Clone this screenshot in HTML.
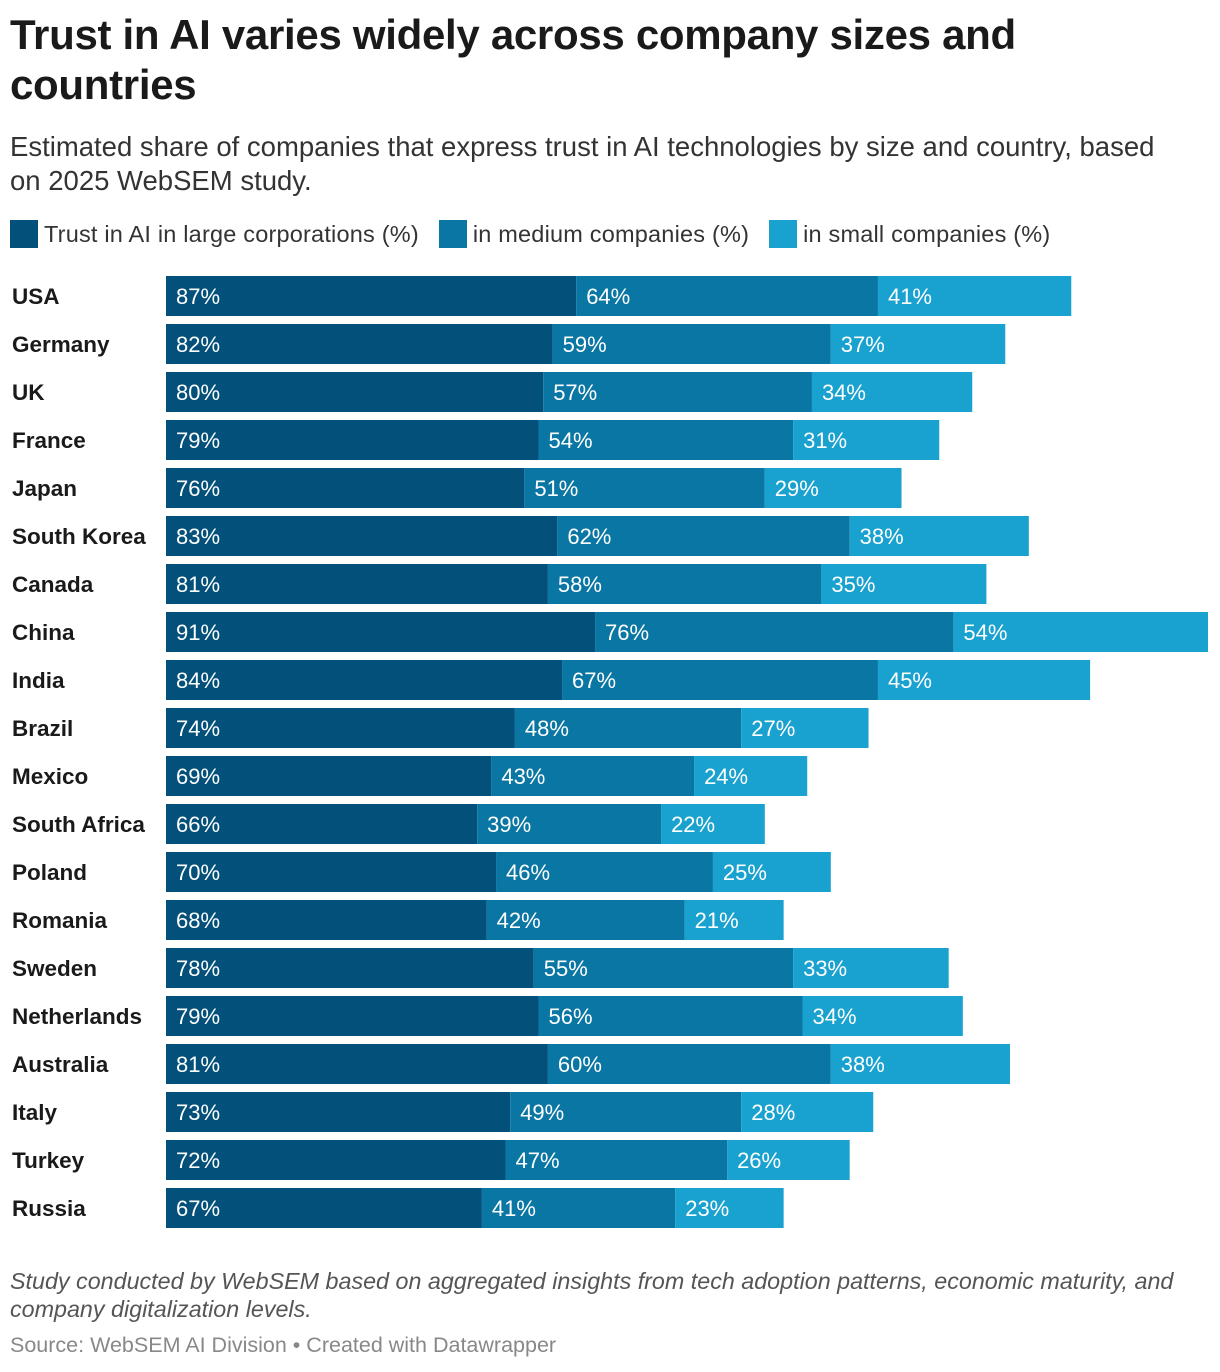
<!DOCTYPE html>
<html><head><meta charset="utf-8"><style>
body{margin:0;width:1220px;height:1372px;background:#fff;font-family:"Liberation Sans",Arial,sans-serif;color:#1a1a1a;position:relative;overflow:hidden}
#title{position:absolute;left:10px;top:10px;font-size:42px;font-weight:bold;line-height:50px;width:1180px;letter-spacing:-0.3px}
#sub{position:absolute;left:10px;top:130px;font-size:27.5px;line-height:34px;color:#333;width:1180px}
#legend{position:absolute;left:10px;top:220px;font-size:23.5px;color:#333;display:flex;gap:20px;letter-spacing:0.2px}
.li{display:flex;align-items:center}
.sw{width:28px;height:28px;margin-right:6px}
#notes{position:absolute;left:10px;top:1267px;font-size:23.3px;font-style:italic;color:#555;line-height:28px;width:1200px}
#src{position:absolute;left:10px;top:1333px;font-size:21.5px;color:#888}
</style></head><body>
<div id="title">Trust in AI varies widely across company sizes and countries</div>
<div id="sub">Estimated share of companies that express trust in AI technologies by size and country, based on 2025 WebSEM study.</div>
<div id="legend">
<div class="li"><div class="sw" style="background:#03507a"></div>Trust in AI in large corporations (%)</div>
<div class="li"><div class="sw" style="background:#0a76a4"></div>in medium companies (%)</div>
<div class="li"><div class="sw" style="background:#19a2cf"></div>in small companies (%)</div>
</div>
<svg id="chart" width="1220" height="1372" style="position:absolute;left:0;top:0"></svg>
<div id="notes">Study conducted by WebSEM based on aggregated insights from tech adoption patterns, economic maturity, and company digitalization levels.</div>
<div id="src">Source: WebSEM AI Division • Created with Datawrapper</div>
<script>
const countries=["USA","Germany","UK","France","Japan","South Korea","Canada","China","India","Brazil","Mexico","South Africa","Poland","Romania","Sweden","Netherlands","Australia","Italy","Turkey","Russia"];
const large=[87,82,80,79,76,83,81,91,84,74,69,66,70,68,78,79,81,73,72,67];
const medium=[64,59,57,54,51,62,58,76,67,48,43,39,46,42,55,56,60,49,47,41];
const small=[41,37,34,31,29,38,35,54,45,27,24,22,25,21,33,34,38,28,26,23];
const svg=document.getElementById('chart');
const NS='http://www.w3.org/2000/svg';
const x0=166, scale=1042/221;
function xs(v){return x0+v*scale;}
function ys(i){return 276+i*48;}
const cols=["#03507a","#0a76a4","#19a2cf"];
const names=["large","medium","small"];
countries.forEach((c,i)=>{
  const y=ys(i);
  const t=document.createElementNS(NS,'text');
  t.setAttribute('x',12);t.setAttribute('y',y+28);
  t.setAttribute('font-size','22.5');t.setAttribute('font-weight','bold');t.setAttribute('fill','#1a1a1a');
  t.textContent=c;
  
  
  svg.appendChild(t);
  const vals=[large[i],medium[i],small[i]];
  let acc=0;
  vals.forEach((v,k)=>{
    const r=document.createElementNS(NS,'rect');
    r.setAttribute('x',xs(acc));r.setAttribute('y',y);
    r.setAttribute('width',xs(acc+v)-xs(acc));r.setAttribute('height',40);
    r.setAttribute('fill',cols[k]);
    
    
    svg.appendChild(r);
    const l=document.createElementNS(NS,'text');
    l.setAttribute('x',xs(acc)+10);l.setAttribute('y',y+28);
    l.setAttribute('font-size','22');l.setAttribute('fill','#fff');
    l.textContent=v+'%';
    
    
    svg.appendChild(l);
    acc+=v;
  });
});
</script>
</body></html>
